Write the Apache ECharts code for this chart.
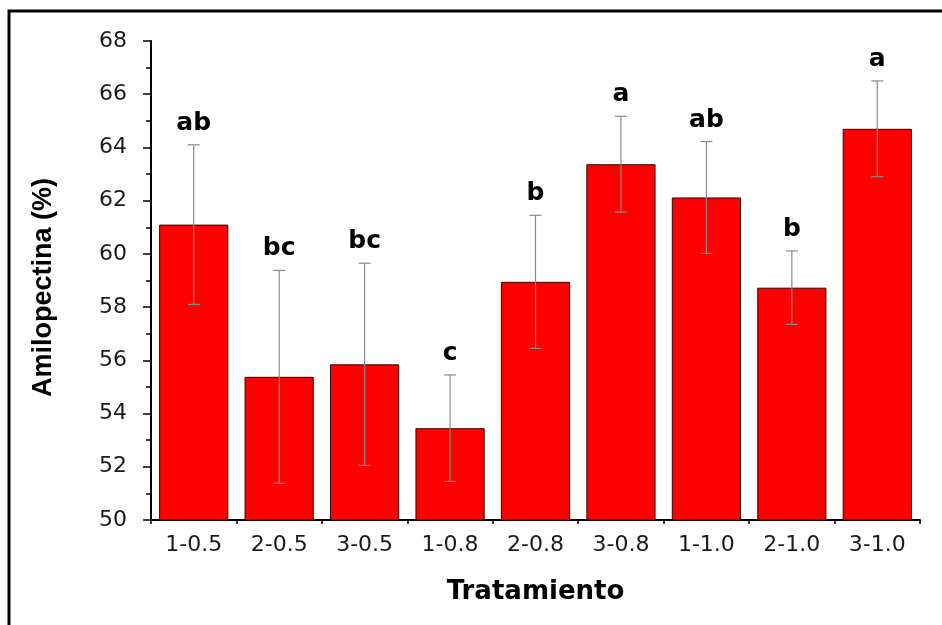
<!DOCTYPE html>
<html>
<head>
<meta charset="utf-8">
<script src="https://cdn.jsdelivr.net/npm/echarts@6/dist/echarts.min.js"></script>
<style>
  html, body { margin: 0; padding: 0; background: #fff; }
  #chart { width: 942px; height: 625px; }
</style>
</head>
<body>
<div id="chart"></div>
<script>
// Treatments (x categories)
const categories = ['1-0.5', '2-0.5', '3-0.5', '1-0.8', '2-0.8', '3-0.8', '1-1.0', '2-1.0', '3-1.0'];
// Mean amylopectin content (%)
const means = [61.1, 55.38, 55.85, 53.45, 58.95, 63.37, 62.12, 58.73, 64.7];
// Standard deviations (error bar half-length)
const sds = [3.0, 4.0, 3.8, 2.0, 2.5, 1.8, 2.1, 1.38, 1.8];
// Significance letters
const letters = ['ab', 'bc', 'bc', 'c', 'b', 'a', 'ab', 'b', 'a'];

const FONT = '"DejaVu Sans", "Liberation Sans", Arial, sans-serif';
const TITLE_FONT = '"Liberation Sans", Arial, Helvetica, sans-serif';

const chart = echarts.init(document.getElementById('chart'), null, { renderer: 'canvas' });

const errData = categories.map((c, i) => [i, means[i] - sds[i], means[i] + sds[i], letters[i]]);

chart.setOption({
  animation: false,
  backgroundColor: '#fff',
  grid: { left: 151, right: 22, top: 41, bottom: 105, containLabel: false },
  graphic: [{
    type: 'rect',
    shape: { x: 9, y: 11, width: 1200, height: 1000 },
    style: { fill: 'none', stroke: '#000', lineWidth: 3 },
    silent: true, z: 100
  }],
  xAxis: [{
    type: 'category',
    data: categories,
    name: 'Tratamiento',
    nameLocation: 'middle',
    nameGap: 59,
    nameTextStyle: { fontFamily: FONT, fontWeight: 'bold', fontSize: 26, color: '#000' },
    axisLine: { lineStyle: { color: '#000', width: 2 } },
    axisTick: { alignWithLabel: true, length: 7, lineStyle: { color: '#000', width: 1.5 } },
    axisLabel: { fontFamily: FONT, fontSize: 22, color: '#1a1a1a', margin: 14 },
    splitLine: { show: false }
  }, {
    type: 'category',
    data: categories,
    position: 'bottom',
    axisLine: { show: false },
    axisTick: { show: true, length: 4, lineStyle: { color: '#000', width: 1.5 } },
    axisLabel: { show: false },
    splitLine: { show: false }
  }],
  yAxis: {
    type: 'value',
    min: 50, max: 68, interval: 2,
    name: 'Amilopectina (%)',
    nameLocation: 'middle',
    nameGap: 94,
    nameTextStyle: { fontFamily: TITLE_FONT, fontWeight: 'bold', fontSize: 27, color: '#000', padding: [0, 14, 0, 0] },
    axisLine: { show: true, lineStyle: { color: '#000', width: 2 } },
    axisTick: { show: true, length: 8, lineStyle: { color: '#000', width: 1.5 } },
    minorTick: { show: true, splitNumber: 2, length: 5, lineStyle: { color: '#000', width: 1.5 } },
    axisLabel: { fontFamily: FONT, fontSize: 22, color: '#1a1a1a', margin: 24 },
    splitLine: { show: false }
  },
  series: [{
    type: 'bar',
    data: means,
    barCategoryGap: '19%',
    itemStyle: { color: '#ff0000', borderColor: '#3a0000', borderWidth: 1 },
    z: 2
  }, {
    type: 'custom',
    data: errData,
    z: 5,
    renderItem: function (params, api) {
      const i = api.value(0);
      const lo = api.coord([i, api.value(1)]);
      const hi = api.coord([i, api.value(2)]);
      const cap = 6;
      const stroke = { stroke: '#8a8a8a', lineWidth: 1.2 };
      return {
        type: 'group',
        children: [
          { type: 'line', shape: { x1: hi[0], y1: hi[1], x2: lo[0], y2: lo[1] }, style: stroke },
          { type: 'line', shape: { x1: hi[0] - cap, y1: hi[1], x2: hi[0] + cap, y2: hi[1] }, style: stroke },
          { type: 'line', shape: { x1: lo[0] - cap, y1: lo[1], x2: lo[0] + cap, y2: lo[1] }, style: stroke },
          { type: 'text', x: hi[0], y: hi[1] - 9,
            style: { text: api.value(3), fontFamily: FONT, fontWeight: 'bold', fontSize: 25, fill: '#000',
                     align: 'center', verticalAlign: 'bottom' } }
        ]
      };
    }
  }]
});
</script>
</body>
</html>
